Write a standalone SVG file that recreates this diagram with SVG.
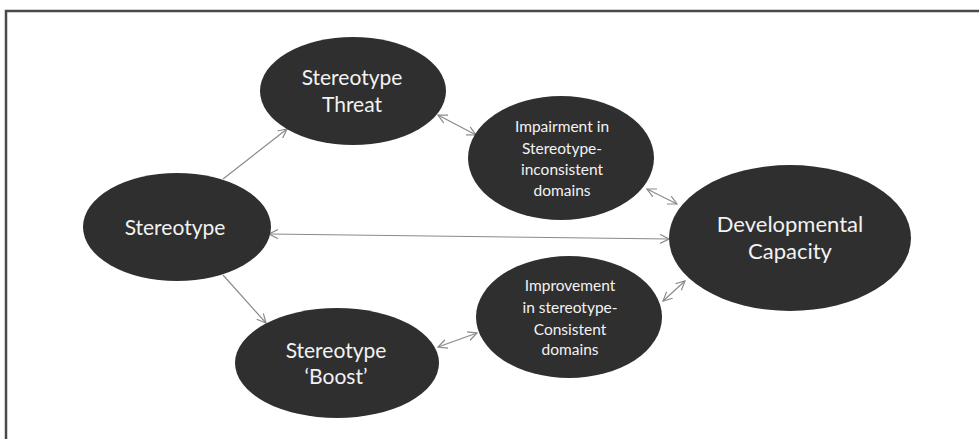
<svg xmlns="http://www.w3.org/2000/svg" width="979" height="439" viewBox="0 0 979 439">
<style>
.node{fill:#2f2f2f;}
.lbl{fill:#f2f2f2;font-family:Lato,"Open Sans","Liberation Sans",sans-serif;text-anchor:middle;}
.big{font-size:21px;}
.big2{font-size:22px;}
.small{font-size:15.5px;}
.edge{stroke:#8a8a8a;stroke-width:1.2;fill:none;}
.frame{stroke:#4a4a4a;stroke-width:2.5;fill:none;}
</style>
<defs>
<marker id="ah" viewBox="0 0 10 10" refX="9" refY="5" markerWidth="10" markerHeight="10" markerUnits="userSpaceOnUse" orient="auto-start-reverse">
<path d="M0,0.5 L9,5 L0,9.5" fill="none" stroke="#8a8a8a" stroke-width="1.2"/>
</marker>
</defs>
<path class="frame" d="M6,445 L6,11 L985,11"/>
<g id="edges">
<line class="edge" x1="223" y1="179" x2="287" y2="129" marker-end="url(#ah)"/>
<line class="edge" x1="223" y1="275" x2="266" y2="323" marker-end="url(#ah)"/>
<line class="edge" x1="269" y1="234" x2="669" y2="239" marker-start="url(#ah)" marker-end="url(#ah)"/>
<line class="edge" x1="438" y1="115" x2="476" y2="135" marker-start="url(#ah)" marker-end="url(#ah)"/>
<line class="edge" x1="647" y1="189" x2="677" y2="204" marker-start="url(#ah)" marker-end="url(#ah)"/>
<line class="edge" x1="663" y1="301" x2="685" y2="281" marker-start="url(#ah)" marker-end="url(#ah)"/>
<line class="edge" x1="438" y1="347" x2="477" y2="333" marker-start="url(#ah)" marker-end="url(#ah)"/>
</g>
<g id="stereotype">
<ellipse class="node" cx="177" cy="227" rx="94" ry="54"/>
<text class="lbl big" x="175" y="235">Stereotype</text>
</g>
<g id="threat">
<ellipse class="node" cx="353" cy="91" rx="93" ry="54"/>
<text class="lbl big" x="352" y="85">Stereotype</text>
<text class="lbl big" x="352" y="112">Threat</text>
</g>
<g id="boost">
<ellipse class="node" cx="337" cy="363" rx="102" ry="55"/>
<text class="lbl big" x="336" y="358">Stereotype</text>
<text class="lbl big" x="336" y="384">‘Boost’</text>
</g>
<g id="impairment">
<ellipse class="node" cx="561" cy="158" rx="93" ry="62"/>
<text class="lbl small" x="562" y="132">Impairment in</text>
<text class="lbl small" x="562" y="154">Stereotype-</text>
<text class="lbl small" x="562" y="175">inconsistent</text>
<text class="lbl small" x="562" y="196">domains</text>
</g>
<g id="improvement">
<ellipse class="node" cx="569" cy="317" rx="93" ry="61"/>
<text class="lbl small" x="570" y="291">Improvement</text>
<text class="lbl small" x="570" y="313">in stereotype-</text>
<text class="lbl small" x="570" y="335">Consistent</text>
<text class="lbl small" x="570" y="355">domains</text>
</g>
<g id="capacity">
<ellipse class="node" cx="790" cy="238" rx="121" ry="73"/>
<text class="lbl big2" x="790" y="232">Developmental</text>
<text class="lbl big2" x="790" y="259">Capacity</text>
</g>
</svg>
